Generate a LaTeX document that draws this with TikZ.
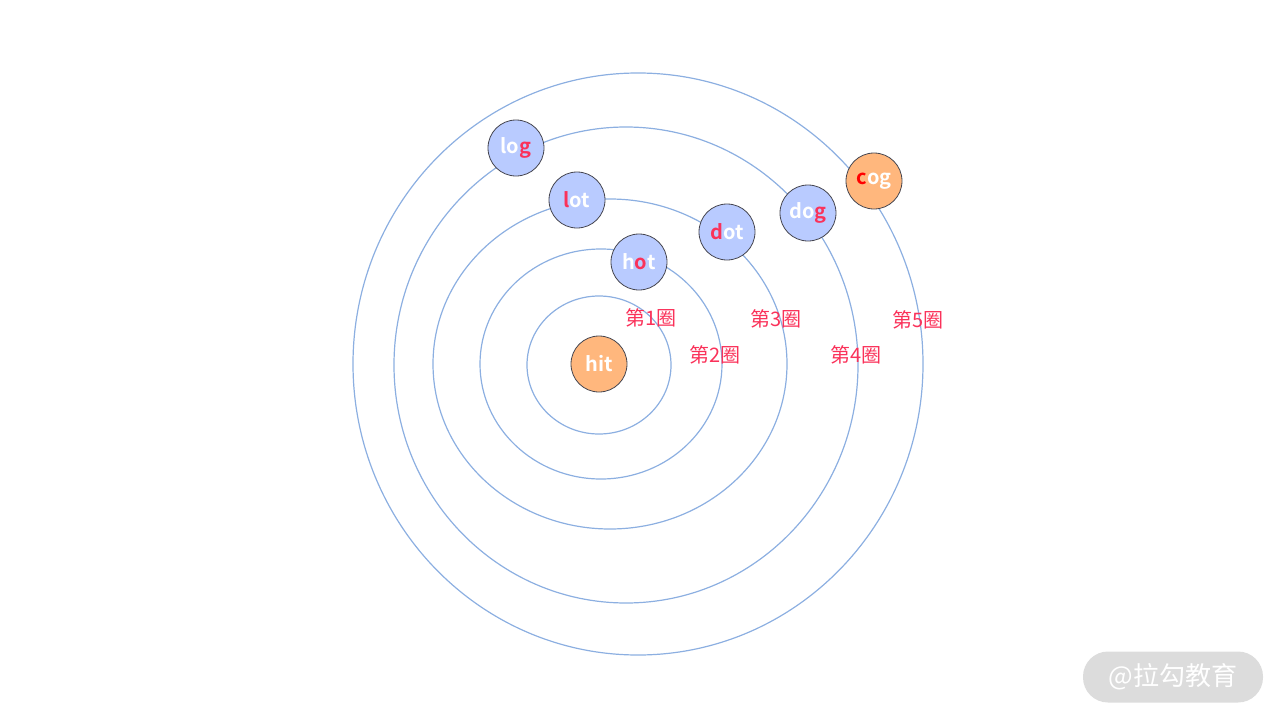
\documentclass[tikz,border=0pt]{standalone}
\usepackage{fontspec}
\setmainfont{Noto Sans CJK SC}[BoldFont={Noto Sans CJK SC Bold}]
\definecolor{ringblue}{RGB}{140,175,225}
\definecolor{wordblue}{RGB}{185,203,255}
\definecolor{wordorange}{RGB}{255,183,125}
\definecolor{hlred}{RGB}{250,50,90}
\definecolor{edgegray}{RGB}{70,70,80}
\definecolor{markgray}{RGB}{220,220,220}

\begin{document}
\begin{tikzpicture}[x=1pt, y=-1pt,
   ring/.style={draw=ringblue, line width=1.2pt},
   word/.style={circle,
         % The border
         draw=edgegray, line width=0.8pt,
         % The size
         minimum size=56pt, inner sep=0pt,
         % Font
         text=white, font=\fontsize{20}{20}\selectfont\bfseries},
   blueword/.style={word, fill=wordblue},
   orangeword/.style={word, fill=wordorange},
   lap/.style={text=hlred, font=\fontsize{20}{20}\selectfont}]
   \useasboundingbox (0,0) rectangle (1280,720);
   %% the five rings round hit
   \foreach \cx/\cy/\rx/\ry in {599/365/72/69, 601/364/121/115, 610/364/177/165,
                               626/365/232/238, 638/364/285/291}{
      \draw [ring] (\cx,\cy) ellipse [x radius=\rx pt, y radius=\ry pt];
   };
   %% the words
   \node (hit) [orangeword] at (599,364) {hit};
   \node (hot) [blueword] at (639,262) {h\textcolor{hlred}{o}t};
   \node (lot) [blueword] at (577,200) {\textcolor{hlred}{l}ot};
   \node (dot) [blueword] at (727,232) {\textcolor{hlred}{d}ot};
   \node (log) [blueword] at (516,148) {lo\textcolor{hlred}{g}};
   \node (dog) [blueword] at (808,213) {do\textcolor{hlred}{g}};
   \node (cog) [orangeword] at (874,181) {\textcolor{red}{c}og};
   %% ring labels
   \foreach \n/\x/\y in {1/651/318, 2/715/355, 3/776/319, 4/856/355, 5/918/320}{
      \node (lap\n) [lap] at (\x,\y) {第\n 圈};
   };
   %% watermark
   \node (mark) [fill=markgray, rounded corners=25pt, minimum width=180pt,
         minimum height=51pt, text=white, font=\fontsize{26}{26}\selectfont]
         at (1173,677) {@拉勾教育};
\end{tikzpicture}
\end{document}
